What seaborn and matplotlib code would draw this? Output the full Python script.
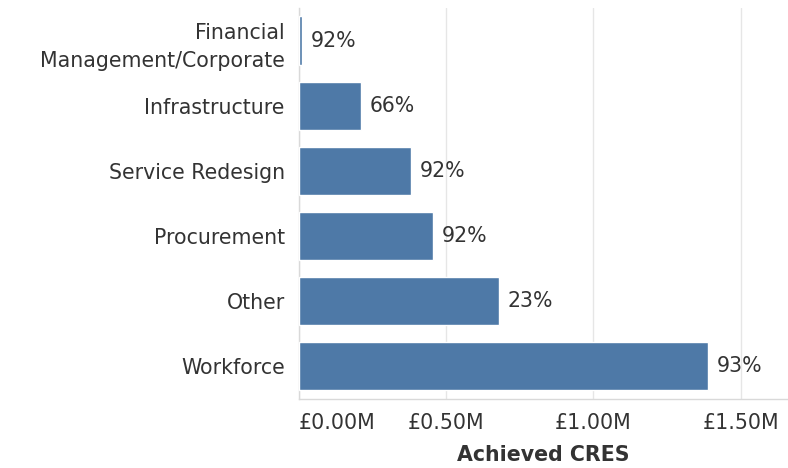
import matplotlib
matplotlib.use("Agg")
import matplotlib.pyplot as plt
import seaborn as sns
import pandas as pd
from matplotlib.ticker import FuncFormatter

categories = ["Financial\nManagement/Corporate", "Infrastructure", "Service Redesign",
              "Procurement", "Other", "Workforce"]
achieved_m = [0.012, 0.211, 0.38, 0.455, 0.68, 1.387]
pct_labels = ["92%", "66%", "92%", "92%", "23%", "93%"]

df = pd.DataFrame({"Category": categories, "Achieved": achieved_m, "Pct": pct_labels})

sns.set_theme(style="white")
plt.rcParams["font.family"] = ["DejaVu Sans"]
text_col = "#333333"
fs = 14.8

fig = plt.figure(figsize=(7.88, 4.68), dpi=100)
ax = fig.add_axes([0.379, 0.148, 0.621, 0.835])

sns.barplot(data=df, x="Achieved", y="Category", color="#4e79a7", saturation=1,
            width=0.74, ax=ax, zorder=3)

for patch, lab in zip(ax.patches, df["Pct"]):
    y = patch.get_y() + patch.get_height() / 2
    ax.text(patch.get_width() + 0.03, y, lab, va="center", ha="left",
            fontsize=fs, color=text_col)

ax.set_xlim(0, 1.66)
ax.set_xticks([0, 0.5, 1.0, 1.5])
ax.xaxis.set_major_formatter(FuncFormatter(lambda v, p: f"£{v:.2f}M"))
ax.grid(axis="x", color="#e6e6e6", linewidth=1, zorder=0)
ax.set_ylabel("")
ax.set_xlabel("Achieved CRES", fontsize=fs, color=text_col, labelpad=9,
              fontweight="bold")
ax.tick_params(axis="x", labelsize=fs, colors=text_col, length=0, pad=10)
ax.tick_params(axis="y", labelsize=fs, colors=text_col, length=0, pad=10)
for lbl in ax.get_yticklabels():
    lbl.set_ha("right")
    lbl.set_linespacing(1.5)
# keep the first x tick label inside the plot's left edge
ax.get_xticklabels()[0].set_ha("left")
for s in ["top", "right"]:
    ax.spines[s].set_visible(False)
for s in ["left", "bottom"]:
    ax.spines[s].set_color("#d9d9d9")
    ax.spines[s].set_linewidth(1)

fig.savefig("out.png", dpi=100)
